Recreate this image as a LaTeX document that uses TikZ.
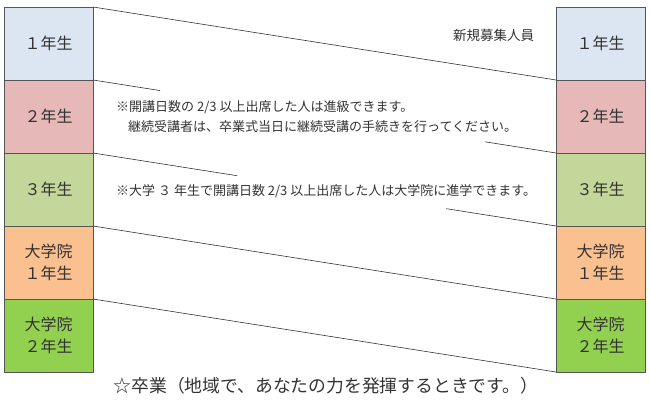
\documentclass[tikz,border=0pt]{standalone}
\usepackage{fontspec}
\setmainfont{Noto Sans CJK JP}
\usetikzlibrary{calc}
\definecolor{txtgray}{HTML}{333333}
\definecolor{boxline}{HTML}{555555}
\definecolor{nen1}{HTML}{DCE6F2}
\definecolor{nen2}{HTML}{E6B9B8}
\definecolor{nen3}{HTML}{C4D79B}
\definecolor{in1}{HTML}{FAC090}
\definecolor{in2}{HTML}{92D050}
\begin{document}
\begin{tikzpicture}[x=1pt,y=-1pt]
\useasboundingbox (0,0) rectangle (650,409);
\begin{scope}[every node/.style={draw=boxline,line width=0.8pt,minimum width=89pt,
              minimum height=73pt,inner sep=0pt,outer sep=0pt,align=center,
              text=txtgray,font=\fontsize{16}{22}\selectfont}]
    \node[fill=nen1] (L1) at (48.5,43.5) {１年生};
    \node[fill=nen2] (L2) at (48.5,116.5) {２年生};
    \node[fill=nen3] (L3) at (48.5,189.5) {３年生};
    \node[fill=in1] (L4) at (48.5,262.5) {大学院\\１年生};
    \node[fill=in2] (L5) at (48.5,335.5) {大学院\\２年生};

    \node[fill=nen1] (R1) at (600.5,43.5) {１年生};
    \node[fill=nen2] (R2) at (600.5,116.5) {２年生};
    \node[fill=nen3] (R3) at (600.5,189.5) {３年生};
    \node[fill=in1] (R4) at (600.5,262.5) {大学院\\１年生};
    \node[fill=in2] (R5) at (600.5,335.5) {大学院\\２年生};
\end{scope}

\begin{scope}[every node/.style={anchor=west,inner sep=0pt,text=txtgray,
              font=\fontsize{13}{15}\selectfont}]
    \node[font=\fontsize{13.5}{15}\selectfont] (Shinki) at (453,35) {新規募集人員};
    \node (Note2a) at (116,107) {※開講日数の 2/3 以上出席した人は進級できます。};
    \node (Note2b) at (128,127) {継続受講者は、卒業式当日に継続受講の手続きを行ってください。};
    \node (Note3) at (116,191) {※大学 ３ 年生で開講日数 2/3 以上出席した人は大学院に進学できます。};
    \node[anchor=center,font=\fontsize{17.8}{20}\selectfont] (Sotsu) at (326,386)
        {☆卒業（地域で、あなたの力を発揮するときです。）};
\end{scope}

\begin{scope}[every edge/.style={draw=txtgray,line width=0.6pt}]
    \path (L1.north east) edge (R1.south west);

    \path (L2.north east) edge ($(L2.north east)!0.145!(R2.south west)$);
    \path ($(L2.north east)!0.847!(R2.south west)$) edge (R2.south west);

    \path (L3.north east) edge ($(L3.north east)!0.311!(R3.south west)$);
    \path ($(L3.north east)!0.763!(R3.south west)$) edge (R3.south west);

    \path (L4.north east) edge (R4.south west);
    \path (L5.north east) edge (R5.south west);
\end{scope}
\end{tikzpicture}
\end{document}
